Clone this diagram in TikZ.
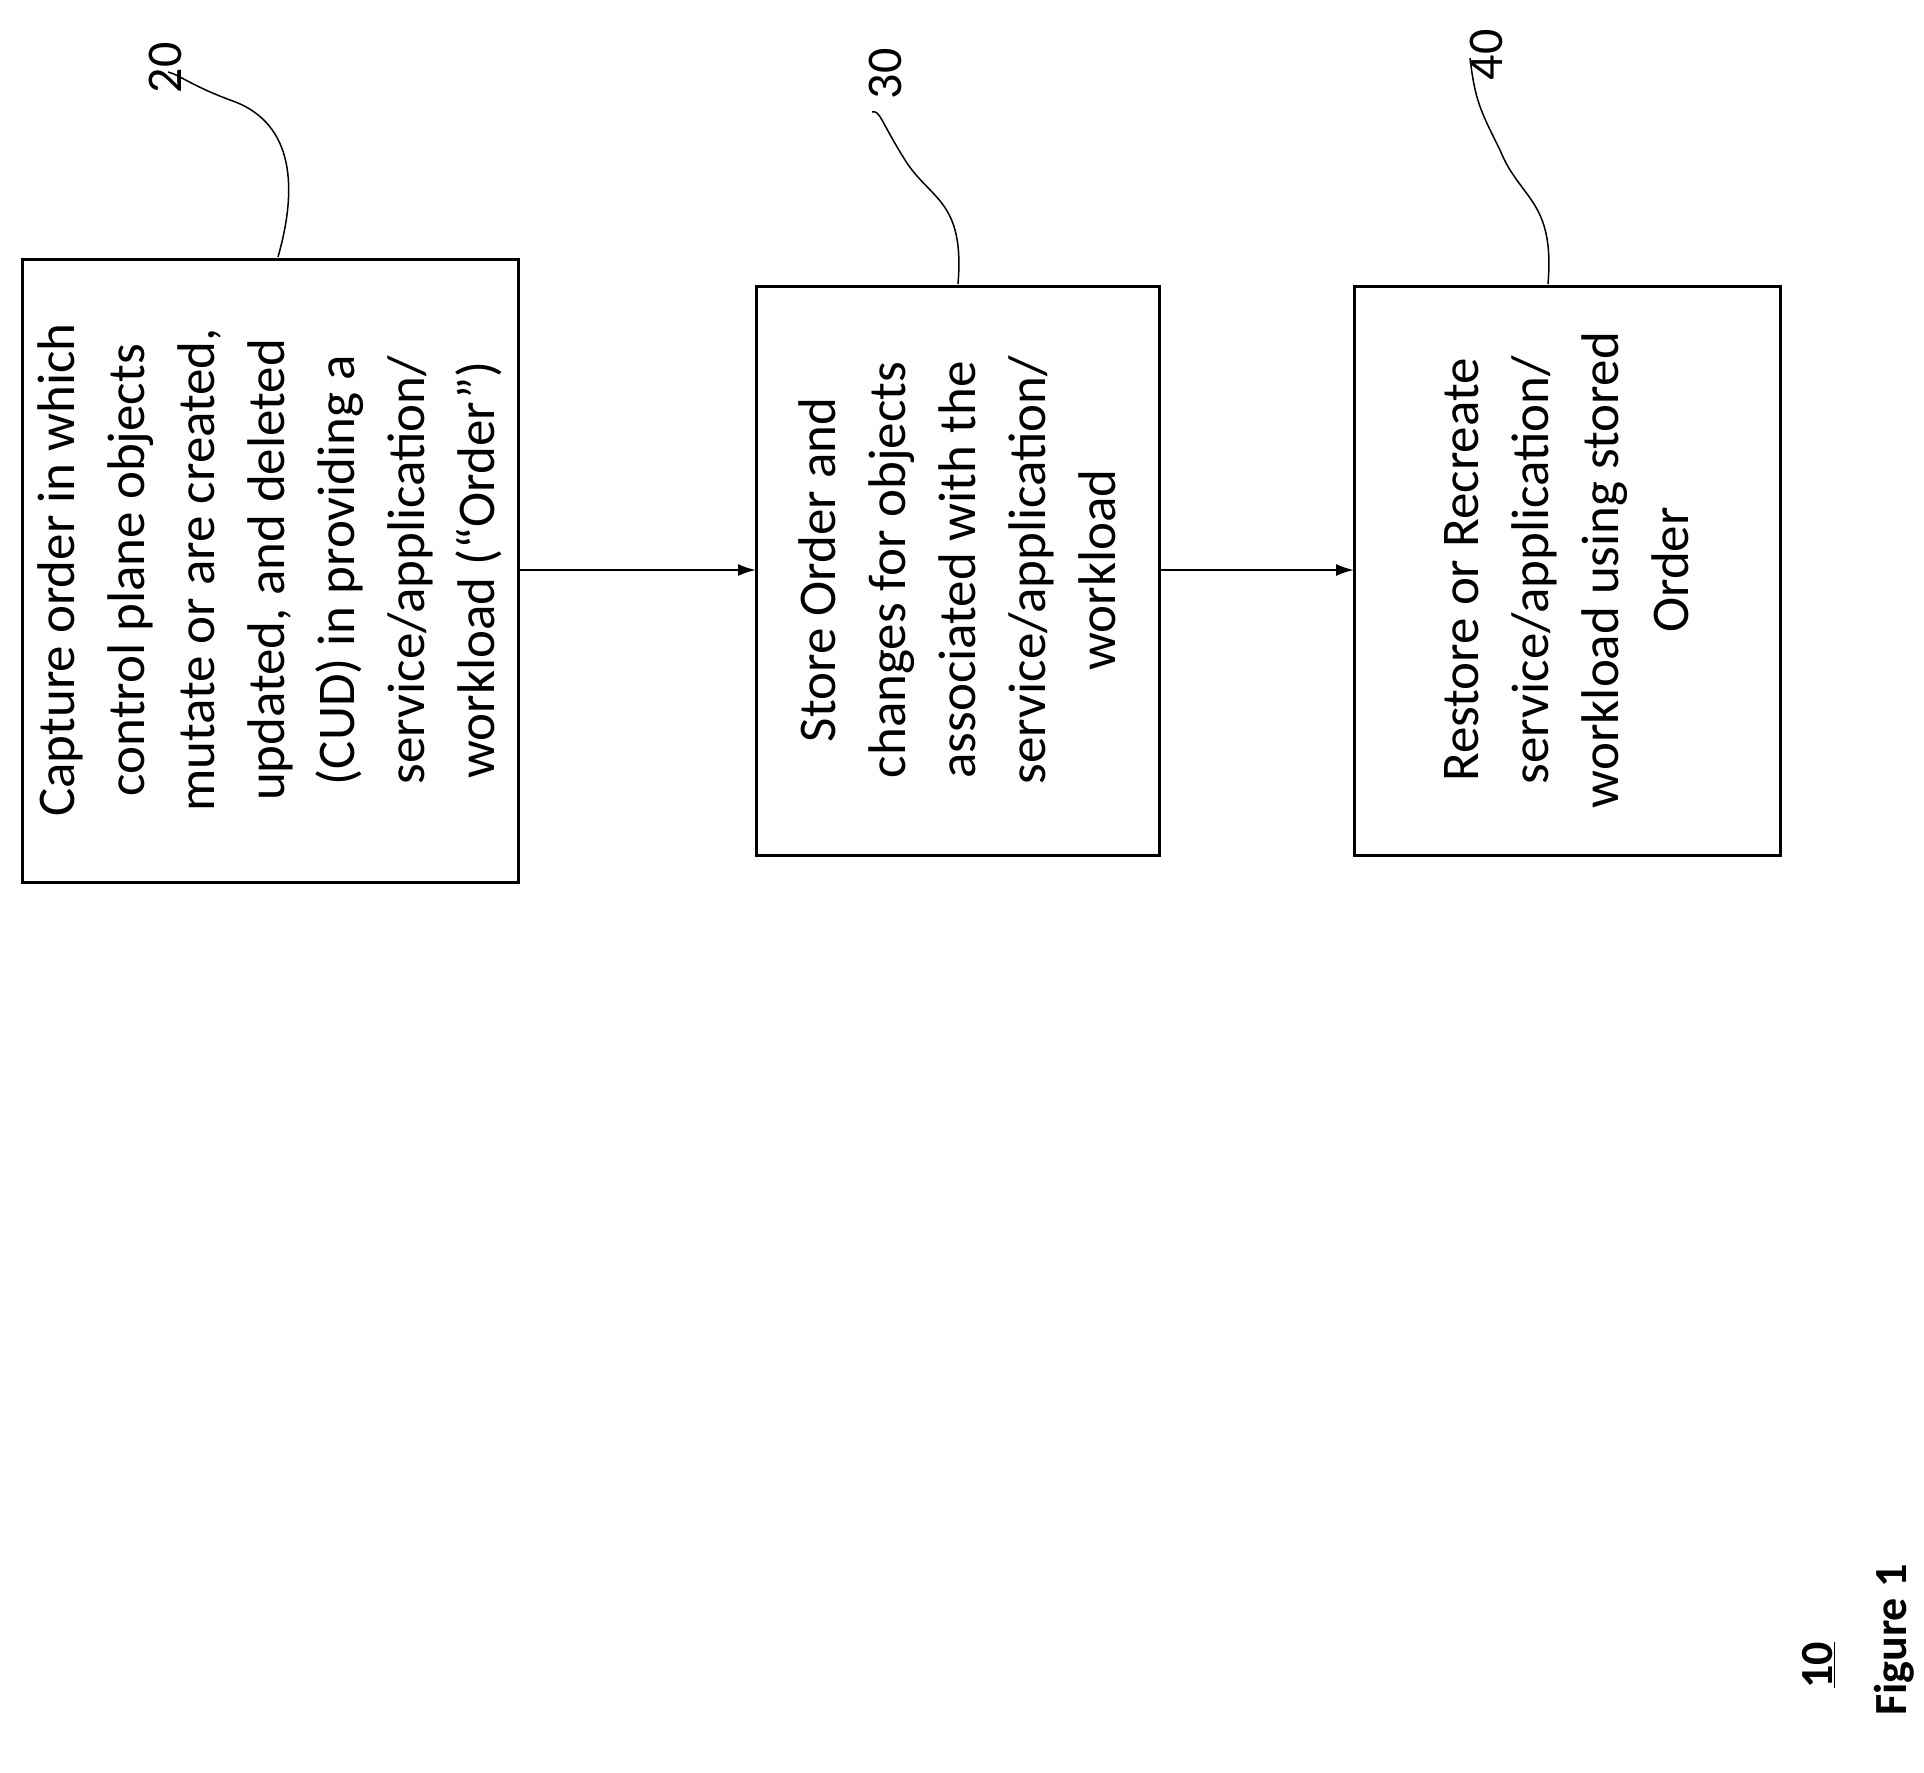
\documentclass[tikz,border=0pt]{standalone}
\usepackage{fontspec}
\setmainfont{Carlito}
\begin{document}
\begin{tikzpicture}[x=1pt,y=-1pt,
  boxline/.style={draw,line width=3pt},
  boxtext/.style={rotate=90,align=center,font=\fontsize{53}{70}\selectfont,inner sep=0pt},
  lbl/.style={rotate=90,font=\fontsize{50}{60}\selectfont,inner sep=0pt},
  conn/.style={line width=2pt,-{Latex[length=18pt,width=12pt]}},
  lead/.style={line width=1.5pt}]
\useasboundingbox (0,0) rectangle (1924,1772);
\usetikzlibrary{arrows.meta}
\draw[boxline] (22,259) rectangle (518,882);
\draw[boxline] (756,286) rectangle (1159,855);
\draw[boxline] (1354,286) rectangle (1780,855);
\node (b1) at (270,570) [boxtext] {Capture order in which\\control plane objects\\mutate or are created,\\updated, and deleted\\(CUD) in providing a\\service/application/\\workload (“Order”)};
\node (b2) at (957,570) [boxtext] {Store Order and\\changes for objects\\associated with the\\service/application/\\workload};
\node (b3) at (1567,570) [boxtext] {Restore or Recreate\\service/application/\\workload using stored\\Order};
\coordinate (e1) at (518,570);
\coordinate (s2) at (756,570);
\coordinate (e2) at (1159,570);
\coordinate (s3) at (1354,570);
\draw[conn] (e1) -- (s2);
\draw[conn] (e2) -- (s3);
\node (l20) at (165,68) [lbl] {20};
\node (l30) at (885,74) [lbl] {30};
\node (l40) at (1486,55) [lbl] {40};
\coordinate (t1) at (278,257);
\coordinate (t2) at (958,284);
\coordinate (t3) at (1548,284);
\draw[lead] (t1) .. controls (300,180) and (290,120) .. (230,100) .. controls (190,85) and (180,75) .. (168,72);
\draw[lead] (t2) .. controls (965,200) and (930,200) .. (905,160) .. controls (880,120) and (880,110) .. (872,112);
\draw[lead] (t3) .. controls (1555,200) and (1520,200) .. (1500,150) .. controls (1480,110) and (1475,100) .. (1470,58);
\node (n10) at (1819,1665) [lbl,font=\bfseries\fontsize{46}{56}\selectfont] {\underline{10}};
\node (fig) at (1894,1640) [lbl,font=\bfseries\fontsize{46}{56}\selectfont] {Figure 1};
\end{tikzpicture}
\end{document}
